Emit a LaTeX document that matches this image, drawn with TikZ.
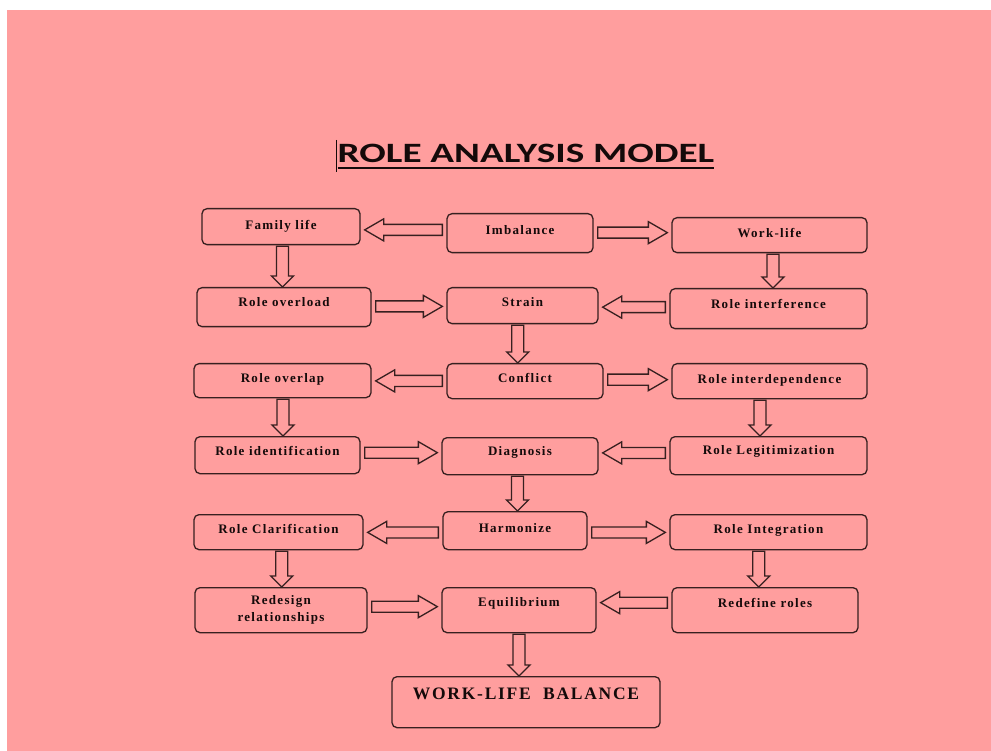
\documentclass[tikz,border=0pt]{standalone}
\usepackage{fontspec}
\setmainfont{Liberation Serif}
\newfontfamily\boxfont[LetterSpace=10]{Liberation Serif}
\newfontfamily\titlefont[FakeStretch=1.4]{Carlito}
\usetikzlibrary{calc}
\definecolor{bgpink}{RGB}{255,158,158}
\definecolor{edgecol}{RGB}{55,32,32}
\definecolor{inkcol}{RGB}{20,10,10}

\tikzset{
  box/.style={draw=edgecol, line width=1.3pt, rounded corners=5pt, anchor=north,
    inner sep=0pt, text=inkcol, font=\boxfont\bfseries\fontsize{13}{17}\selectfont},
  blockline/.style={draw=edgecol, line width=1.3pt, line join=miter},
}

% hollow block arrow, left/right: [y shift]{from}{to}
\newcommand{\harrow}[3][0pt]{%
  \draw[blockline] let \p1=#2, \p2=#3, \n1={sign(\x2-\x1)}, \n2={(\y1+\y2)/2+#1},
    \n3={\x1+\n1*4pt}, \n4={\x2-\n1*4pt}, \n5={\x2-\n1*23pt} in
    (\n3,{\n2+5.5pt}) -- (\n5,{\n2+5.5pt}) -- (\n5,{\n2+11pt}) -- (\n4,\n2)
    -- (\n5,{\n2-11pt}) -- (\n5,{\n2-5.5pt}) -- (\n3,{\n2-5.5pt}) -- cycle;}
% hollow block arrow, downwards: [x shift]{from}{to}
\newcommand{\varrow}[3][0pt]{%
  \draw[blockline] let \p1=#2, \p2=#3, \n1={sign(\y2-\y1)}, \n2={(\x1+\x2)/2+#1},
    \n3={\y1+\n1*1pt}, \n4={\y2}, \n5={\y2-\n1*11pt} in
    ({\n2-6pt},\n3) -- ({\n2-6pt},\n5) -- ({\n2-11pt},\n5) -- (\n2,\n4)
    -- ({\n2+11pt},\n5) -- ({\n2+6pt},\n5) -- ({\n2+6pt},\n3) -- cycle;}

\begin{document}
\begin{tikzpicture}[x=1pt, y=-1pt]
    \useasboundingbox (0,0) rectangle (991,751);
    % page
    \fill[white] (0,0) rectangle (991,751);
    \fill[bgpink] (7,10) rectangle (1000,760);

    % title
    \node[anchor=base, inner sep=0pt, text=inkcol,
      font=\titlefont\bfseries\fontsize{28}{32}\selectfont] (title) at (526,163) {ROLE ANALYSIS MODEL};
    \draw[line width=2pt, inkcol] ([yshift=-5pt]title.base west) -- ([yshift=-5pt]title.base east);
    \draw[line width=0.8pt, inkcol] ([xshift=-1pt,yshift=23pt]title.base west) -- ([xshift=-1pt,yshift=-9pt]title.base west);

    % row 1
    \node[box, minimum width=158pt, text height=21pt, text depth=15pt] (family) at (281,208) {Family life};
    \node[box, minimum width=146pt, text height=21pt, text depth=18pt] (imbal) at (520,213) {Imbalance};
    \node[box, minimum width=195pt, text height=20pt, text depth=15pt] (worklife) at (769.5,217) {Work-life};
    % row 2
    \node[box, minimum width=174pt, text height=19pt, text depth=20pt] (overload) at (284,287) {Role overload};
    \node[box, minimum width=151pt, text height=19pt, text depth=17pt] (strain) at (522.5,287) {Strain};
    \node[box, minimum width=197pt, text height=19.5pt, text depth=20.5pt] (interf) at (768.5,288) {Role interference};
    % row 3
    \node[box, minimum width=177pt, text height=18.5pt, text depth=15.5pt] (overlap) at (282.5,363) {Role overlap};
    \node[box, minimum width=156pt, text height=18.5pt, text depth=16.5pt] (conflict) at (525,363) {Conflict};
    \node[box, minimum width=195pt, text height=19.5pt, text depth=15.5pt] (interdep) at (769.5,363) {Role interdependence};
    % row 4
    \node[box, minimum width=165pt, text height=18.5pt, text depth=18.5pt] (ident) at (277.5,436) {Role identification};
    \node[box, minimum width=156pt, text height=17.5pt, text depth=19.5pt] (diag) at (520,437) {Diagnosis};
    \node[box, minimum width=197pt, text height=17.5pt, text depth=20.5pt] (legit) at (768.5,436) {Role Legitimization};
    % row 5
    \node[box, minimum width=169pt, text height=18.5pt, text depth=16.5pt] (clarif) at (278.5,514) {Role Clarification};
    \node[box, minimum width=144pt, text height=20.5pt, text depth=17.5pt] (harmon) at (515,511) {Harmonize};
    \node[box, minimum width=197pt, text height=18.5pt, text depth=16.5pt] (integ) at (768.5,514) {Role Integration};
    % row 6
    \node[box, minimum width=172pt, minimum height=45pt, align=center] (redesign) at (281,587) {Redesign\\relationships};
    \node[box, minimum width=154pt, text height=18.5pt, text depth=26.5pt] (equil) at (519,587) {Equilibrium};
    \node[box, minimum width=186pt, text height=19.5pt, text depth=25.5pt] (redef) at (765,587) {Redefine roles};
    % result
    \node[box, minimum width=268pt, text height=23pt, text depth=28pt,
      font=\boxfont\bfseries\fontsize{17.5}{20}\selectfont] (wlb) at (526,676) {WORK-LIFE\ \ BALANCE};

    % sideways arrows
    \harrow{(imbal.west)}{(family.east)}
    \harrow[1.5pt]{(imbal.east)}{(worklife.west)}
    \harrow{(overload.east)}{(strain.west)}
    \harrow{(interf.west)}{(strain.east)}
    \harrow{(conflict.west)}{(overlap.east)}
    \harrow[1.5pt]{(conflict.east)}{(interdep.west)}
    \harrow[3pt]{(ident.east)}{(diag.west)}
    \harrow[3pt]{(legit.west)}{(diag.east)}
    \harrow[-1pt]{(harmon.west)}{(clarif.east)}
    \harrow[-1pt]{(harmon.east)}{(integ.west)}
    \harrow[3.5pt]{(redesign.east)}{(equil.west)}
    \harrow[7.5pt]{(redef.west)}{(equil.east)}

    % downward arrows
    \varrow{(family.south)}{(overload.north)}
    \varrow[4pt]{(worklife.south)}{(interf.north)}
    \varrow[-6pt]{(strain.south)}{(conflict.north)}
    \varrow[3pt]{(overlap.south)}{(ident.north)}
    \varrow[-9pt]{(interdep.south)}{(legit.north)}
    \varrow{(diag.south)}{(harmon.north)}
    \varrow[2pt]{(clarif.south)}{(redesign.north)}
    \varrow[-8pt]{(integ.south)}{(redef.north)}
    \varrow[-3.5pt]{(equil.south)}{(wlb.north)}
\end{tikzpicture}
\end{document}
